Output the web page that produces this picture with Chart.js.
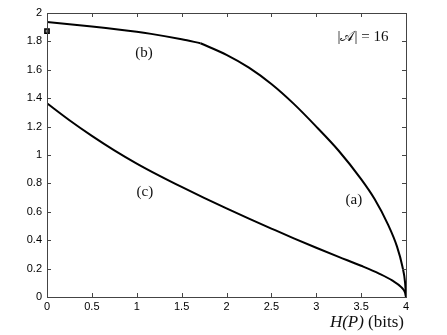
<!DOCTYPE html>
<html>
<head>
<meta charset="utf-8">
<script src="https://cdn.jsdelivr.net/npm/chart.js@4.4.1/dist/chart.umd.min.js"></script>
<style>
    html, body { margin: 0; padding: 0; background: #fff; }
    #wrap { width: 447px; height: 335px; }
</style>
</head>
<body>
<div id="wrap"><canvas id="rateChart"></canvas></div>
<script>
// curve (b): flat top part up to the kink
const bH = [0, 0.5, 1.0, 1.16, 1.5, 1.71];
const bR = [1.937, 1.905, 1.868, 1.853, 1.815, 1.787];
// curve (a): from the kink down to H = 4
const aH = [1.71, 2.0, 2.25, 2.5, 2.75, 3.0, 3.25, 3.5, 3.65, 3.8, 3.9, 3.96, 3.99, 4.0];
const aR = [1.787, 1.705, 1.615, 1.50, 1.36, 1.20, 1.03, 0.83, 0.69, 0.51, 0.355, 0.215, 0.10, 0.0];
// curve (c)
const cH = [0, 0.25, 0.5, 0.75, 1.0, 1.25, 1.5, 1.75, 2.0, 2.25, 2.5, 2.75, 3.0, 3.25, 3.5, 3.7, 3.85, 3.95, 3.99, 4.0];
const cR = [1.364, 1.245, 1.135, 1.033, 0.94, 0.855, 0.775, 0.698, 0.624, 0.552, 0.482, 0.413, 0.347, 0.283, 0.22, 0.165, 0.115, 0.068, 0.03, 0.0];
// single marked point
const markH = [0];
const markR = [1.873];

const xTicks = [0, 0.5, 1, 1.5, 2, 2.5, 3, 3.5, 4];
const yTicks = [0, 0.2, 0.4, 0.6, 0.8, 1, 1.2, 1.4, 1.6, 1.8, 2];

const notes = [
    { text: '(a)', x: 3.42, y: 0.68 },
    { text: '(b)', x: 1.08, y: 1.72 },
    { text: '(c)', x: 1.09, y: 0.74 },
    { text: '|\u{1D49C}| = 16', x: 3.52, y: 1.83 }
];

function toPoints(xs, ys) {
    return xs.map(function (x, i) { return { x: x, y: ys[i] }; });
}

function curve(label, xs, ys) {
    return {
        label: label,
        data: toPoints(xs, ys),
        showLine: true,
        borderColor: '#000',
        borderWidth: 2,
        pointRadius: 0,
        cubicInterpolationMode: 'monotone'
    };
}

const tickFont = { family: 'Liberation Sans, Arial, sans-serif', size: 11 };

// box, inward ticks, curve labels and axis title
const decorPlugin = {
    id: 'decor',
    afterDraw: function (chart) {
        const ctx = chart.ctx;
        const a = chart.chartArea;
        const xs = chart.scales.x;
        const ys = chart.scales.y;
        const len = 4;
        ctx.save();
        ctx.strokeStyle = '#444';
        ctx.lineWidth = 1;
        ctx.beginPath();
        xTicks.forEach(function (v) {
            const px = Math.round(xs.getPixelForValue(v)) + 0.5;
            ctx.moveTo(px, a.bottom); ctx.lineTo(px, a.bottom - len);
            ctx.moveTo(px, a.top); ctx.lineTo(px, a.top + len);
        });
        yTicks.forEach(function (v) {
            const py = Math.round(ys.getPixelForValue(v)) + 0.5;
            ctx.moveTo(a.left, py); ctx.lineTo(a.left + len, py);
            ctx.moveTo(a.right, py); ctx.lineTo(a.right - len, py);
        });
        ctx.stroke();
        ctx.strokeRect(Math.round(a.left) + 0.5, Math.round(a.top) + 0.5,
            Math.round(a.right - a.left), Math.round(a.bottom - a.top));

        ctx.fillStyle = '#111';
        ctx.textAlign = 'center';
        ctx.textBaseline = 'middle';
        ctx.font = '15px "Liberation Serif", "DejaVu Serif", serif';
        notes.forEach(function (n) {
            ctx.fillText(n.text, xs.getPixelForValue(n.x), ys.getPixelForValue(n.y));
        });

        // x axis title: italic H(P), upright (bits), right aligned
        const base = a.bottom + 30;
        ctx.textAlign = 'left';
        ctx.textBaseline = 'alphabetic';
        const partA = 'H(P)';
        const partB = ' (bits)';
        ctx.font = 'italic 17px "Liberation Serif", serif';
        const wA = ctx.measureText(partA).width;
        ctx.font = '17px "Liberation Serif", serif';
        const wB = ctx.measureText(partB).width;
        const start = a.right - 2 - wA - wB;
        ctx.font = 'italic 17px "Liberation Serif", serif';
        ctx.fillText(partA, start, base);
        ctx.font = '17px "Liberation Serif", serif';
        ctx.fillText(partB, start + wA, base);
        ctx.restore();
    }
};

const ctx = document.getElementById('rateChart').getContext('2d');
new Chart(ctx, {
    type: 'scatter',
    data: {
        datasets: [
            curve('b', bH, bR),
            curve('a', aH, aR),
            curve('c', cH, cR),
            {
                label: 'mark',
                data: toPoints(markH, markR),
                showLine: false,
                pointStyle: 'rect',
                pointRadius: 3,
                borderColor: '#000',
                borderWidth: 1.5,
                backgroundColor: '#888',
                clip: false
            }
        ]
    },
    options: {
        responsive: true,
        maintainAspectRatio: false,
        animation: false,
        layout: { padding: { left: 0, right: 41, top: 13, bottom: 0 } },
        plugins: {
            legend: { display: false },
            tooltip: { enabled: false }
        },
        scales: {
            x: {
                type: 'linear',
                min: 0,
                max: 4,
                afterBuildTicks: function (scale) {
                    scale.ticks = xTicks.map(function (v) { return { value: v }; });
                },
                afterFit: function (scale) { scale.height = 38; },
                grid: { display: false, drawTicks: false },
                border: { display: false },
                ticks: {
                    color: '#000',
                    font: tickFont,
                    padding: 3,
                    maxRotation: 0,
                    callback: function (v) { return String(v); }
                }
            },
            y: {
                type: 'linear',
                min: 0,
                max: 2,
                afterBuildTicks: function (scale) {
                    scale.ticks = yTicks.map(function (v) { return { value: v }; });
                },
                afterFit: function (scale) { scale.width = 47; },
                grid: { display: false, drawTicks: false },
                border: { display: false },
                ticks: {
                    color: '#000',
                    font: tickFont,
                    padding: 5,
                    callback: function (v) { return String(v); }
                }
            }
        }
    },
    plugins: [decorPlugin]
});
</script>
</body>
</html>
